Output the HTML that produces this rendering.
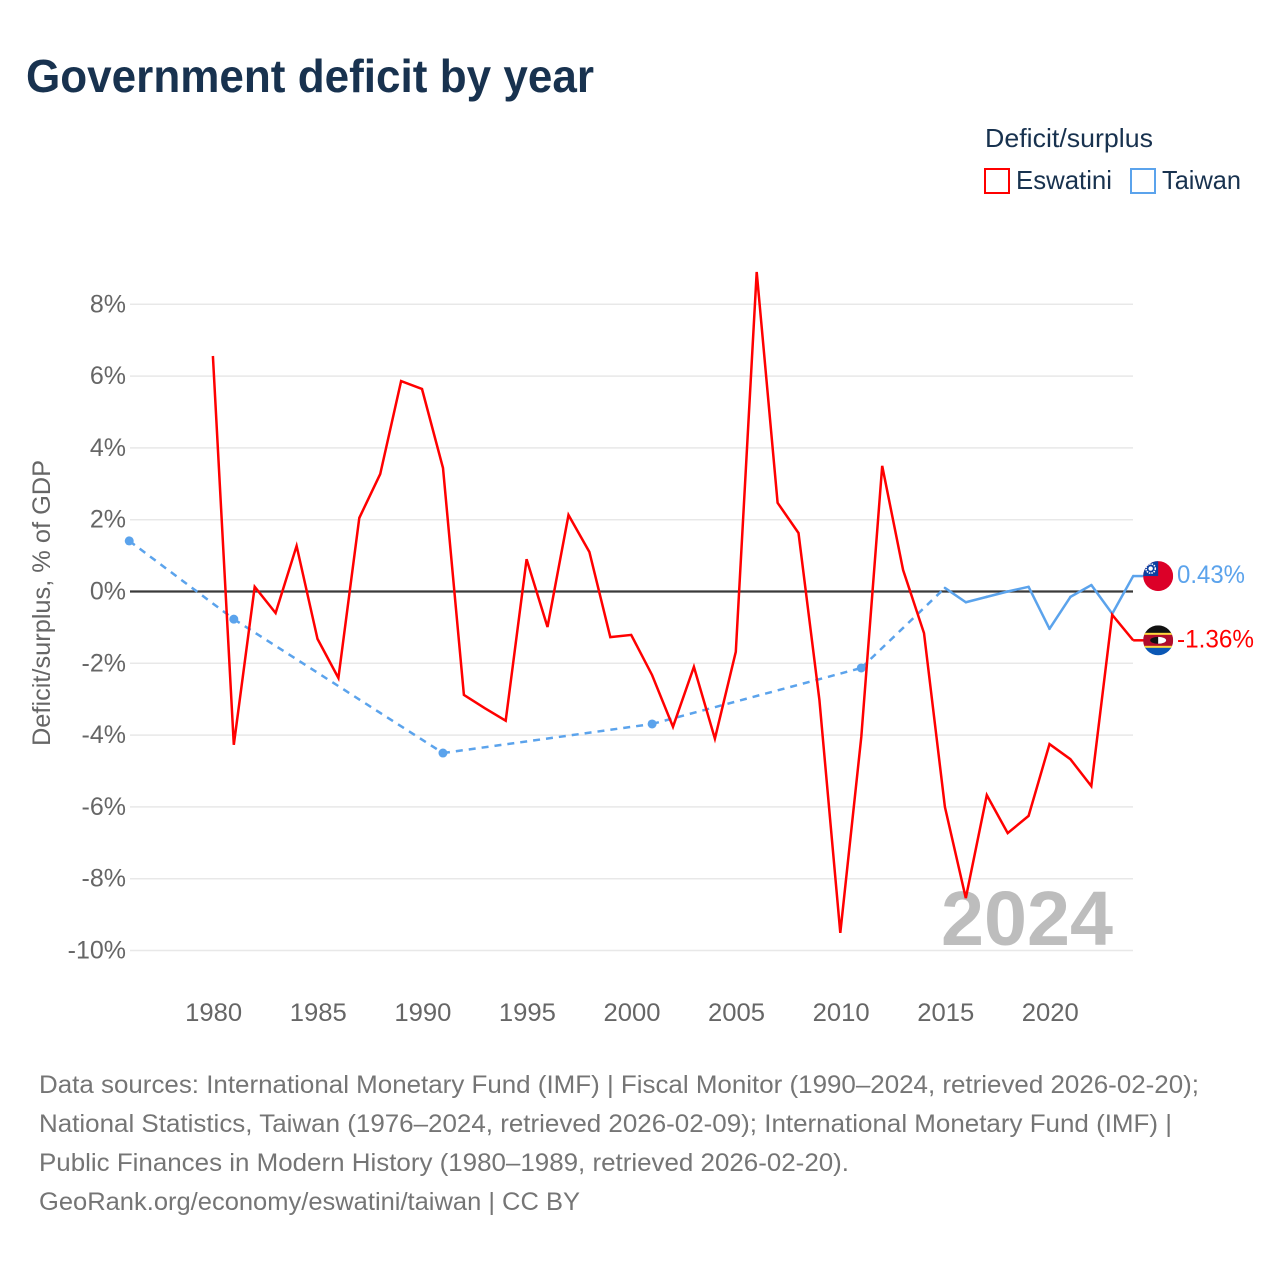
<!DOCTYPE html>
<html lang="en">
<head>
<meta charset="utf-8">
<title>Government deficit by year</title>
<style>
html,body{margin:0;padding:0;background:#fff;width:1280px;height:1280px;overflow:hidden}
svg{display:block;font-family:"Liberation Sans",sans-serif}
</style>
</head>
<body>
<svg id="chart" width="1280" height="1280" viewBox="0 0 1280 1280" xmlns="http://www.w3.org/2000/svg">
  <defs>
    <clipPath id="clip-tw"><circle cx="0" cy="0" r="15"/></clipPath>
    <clipPath id="clip-sz"><circle cx="0" cy="0" r="15"/></clipPath>
  </defs>
  <text x="26" y="92" font-size="46" font-weight="700" fill="#18324f" textLength="568" lengthAdjust="spacingAndGlyphs">Government deficit by year</text>

  <text x="985" y="147" font-size="26" fill="#18324f" textLength="168" lengthAdjust="spacingAndGlyphs">Deficit/surplus</text>
  <rect x="985" y="169" width="24" height="24" fill="#fff" stroke="#ff0000" stroke-width="2"/>
  <text x="1016" y="189" font-size="26" fill="#18324f" textLength="96" lengthAdjust="spacingAndGlyphs">Eswatini</text>
  <rect x="1131" y="169" width="24" height="24" fill="#fff" stroke="#5ba3ec" stroke-width="2"/>
  <text x="1162" y="189" font-size="26" fill="#18324f" textLength="79" lengthAdjust="spacingAndGlyphs">Taiwan</text>

  <g id="grid"></g>
  <g id="yticks"></g>
  <g id="xticks"></g>
  <text transform="translate(50,603) rotate(-90)" text-anchor="middle" font-size="25" fill="#666" textLength="286" lengthAdjust="spacingAndGlyphs">Deficit/surplus, % of GDP</text>

  <text x="1113" y="945" text-anchor="end" font-size="77" font-weight="700" fill="#bdbdbd" textLength="172" lengthAdjust="spacingAndGlyphs">2024</text>

  <g id="series"></g>
  <g id="endlabels"></g>

  <g font-size="25" fill="#757575">
    <text x="39" y="1093" textLength="1160" lengthAdjust="spacingAndGlyphs">Data sources: International Monetary Fund (IMF) | Fiscal Monitor (1990–2024, retrieved 2026-02-20);</text>
    <text x="39" y="1132" textLength="1133" lengthAdjust="spacingAndGlyphs">National Statistics, Taiwan (1976–2024, retrieved 2026-02-09); International Monetary Fund (IMF) |</text>
    <text x="39" y="1171" textLength="810" lengthAdjust="spacingAndGlyphs">Public Finances in Modern History (1980–1989, retrieved 2026-02-20).</text>
    <text x="39" y="1210" textLength="541" lengthAdjust="spacingAndGlyphs">GeoRank.org/economy/eswatini/taiwan | CC BY</text>
  </g>
</svg>
<script>
const eswatiniYears = [1980,1981,1982,1983,1984,1985,1986,1987,1988,1989,1990,1991,1992,1993,1994,1995,1996,1997,1998,1999,2000,2001,2002,2003,2004,2005,2006,2007,2008,2009,2010,2011,2012,2013,2014,2015,2016,2017,2018,2019,2020,2021,2022,2023,2024];
const eswatiniValues = [6.56,-4.27,0.13,-0.6,1.27,-1.32,-2.41,2.05,3.27,5.86,5.64,3.44,-2.88,-3.25,-3.6,0.9,-0.99,2.13,1.1,-1.27,-1.21,-2.33,-3.77,-2.1,-4.1,-1.68,8.9,2.47,1.63,-3.02,-9.51,-4.05,3.5,0.6,-1.16,-6.0,-8.54,-5.67,-6.73,-6.25,-4.25,-4.67,-5.42,-0.65,-1.36];
const taiwanYears = [1976,1981,1991,2001,2011,2015,2016,2017,2018,2019,2020,2021,2022,2023,2024];
const taiwanValues = [1.41,-0.77,-4.5,-3.69,-2.13,0.1,-0.3,-0.15,0.0,0.13,-1.04,-0.15,0.18,-0.62,0.43];
const yTickValues = [8,6,4,2,0,-2,-4,-6,-8,-10];
const xTickYears = [1980,1985,1990,1995,2000,2005,2010,2015,2020];

const NS = 'http://www.w3.org/2000/svg';
const x = yr => 212.9 + (yr - 1980) * 20.915;
const y = v => 591.5 - v * 35.9;
const fmtPct = v => v.toFixed(2) + '%';
function mk(tag, attrs, parent, txt) {
  const el = document.createElementNS(NS, tag);
  for (const k in attrs) el.setAttribute(k, attrs[k]);
  if (txt !== undefined) el.textContent = txt;
  parent.appendChild(el);
  return el;
}
const gGrid = document.getElementById('grid');
const gY = document.getElementById('yticks');
const gX = document.getElementById('xticks');
const gS = document.getElementById('series');
const gE = document.getElementById('endlabels');

yTickValues.forEach(v => {
  if (v !== 0) {
    const l = mk('line', {x1: 130, x2: 1133, y1: y(v), y2: y(v), stroke: '#e8e8e8', 'stroke-width': 1.5}, gGrid);
    
    
  }
  const t = mk('text', {x: 126, y: y(v) + 8, 'text-anchor': 'end', 'font-size': 25, fill: '#666'}, gY, v + '%');
  
  
});
xTickYears.forEach(yr => {
  const t = mk('text', {x: x(yr) + 0.8, y: 1021, 'text-anchor': 'middle', 'font-size': 25, fill: '#666', textLength: 57, lengthAdjust: 'spacingAndGlyphs'}, gX, yr);
  
  
});
const zero = mk('line', {x1: 130, x2: 1133, y1: y(0), y2: y(0), stroke: '#3a3a3a', 'stroke-width': 2.2}, gS);



const pts = (ys, vs) => ys.map((yr, i) => x(yr).toFixed(1) + ',' + y(vs[i]).toFixed(1)).join(' ');

// Taiwan: gaps between sparse years are dashed, consecutive years are solid
for (let i = 0; i < taiwanYears.length - 1; i++) {
  const gap = taiwanYears[i + 1] - taiwanYears[i] > 1;
  const seg = mk('line', {
    x1: x(taiwanYears[i]), y1: y(taiwanValues[i]),
    x2: x(taiwanYears[i + 1]), y2: y(taiwanValues[i + 1]),
    stroke: '#5ba3ec', 'stroke-width': 2.5, 'stroke-linecap': gap ? 'butt' : 'round'
  }, gS);
  if (gap) seg.setAttribute('stroke-dasharray', '7 6');
  
  
  if (gap) {
    const c = mk('circle', {cx: x(taiwanYears[i]), cy: y(taiwanValues[i]), r: 4.5, fill: '#5ba3ec'}, gS);
    
    
  }
}
const esw = mk('polyline', {points: pts(eswatiniYears, eswatiniValues), fill: 'none', stroke: '#ff0000', 'stroke-width': 2.5, 'stroke-linejoin': 'miter'}, gS);



const lastYear = 2024;
const flagX = x(lastYear) + 25;
const twV = taiwanValues[taiwanValues.length - 1];
const szV = eswatiniValues[eswatiniValues.length - 1];

// Short flat connectors from the last data point to each flag
const twStub = mk('line', {x1: x(lastYear), x2: flagX - 12, y1: y(twV), y2: y(twV), stroke: '#5ba3ec', 'stroke-width': 2.5}, gE);


const szStub = mk('line', {x1: x(lastYear), x2: flagX - 12, y1: y(szV), y2: y(szV), stroke: '#ff0000', 'stroke-width': 2.5}, gE);



// Taiwan flag
const tw = mk('g', {transform: `translate(${flagX},${y(twV)})`, 'clip-path': 'url(#clip-tw)'}, gE);


mk('rect', {x: -15, y: -15, width: 30, height: 30, fill: '#dc0028'}, tw);
mk('rect', {x: -15, y: -15, width: 15, height: 15, fill: '#0b3fa0'}, tw);
mk('circle', {cx: -7.5, cy: -7.5, r: 4.6, fill: 'none', stroke: '#fff', 'stroke-width': 1.6, 'stroke-dasharray': '1.5 1'}, tw);
mk('circle', {cx: -7.5, cy: -7.5, r: 2.2, fill: '#fff'}, tw);
const twL = mk('text', {x: 1177, y: y(twV) + 7, 'font-size': 25, fill: '#5ba3ec', textLength: 68, lengthAdjust: 'spacingAndGlyphs'}, gE, fmtPct(twV));



// Eswatini flag
const sz = mk('g', {transform: `translate(${flagX},${y(szV)})`, 'clip-path': 'url(#clip-sz)'}, gE);


mk('rect', {x: -15, y: -15, width: 30, height: 9, fill: '#111'}, sz);
mk('rect', {x: -15, y: -6, width: 30, height: 12, fill: '#b10c2b'}, sz);
mk('rect', {x: -15, y: 6, width: 30, height: 9, fill: '#0a57b5'}, sz);
mk('rect', {x: -15, y: -7.5, width: 30, height: 2, fill: '#ffd83d'}, sz);
mk('rect', {x: -15, y: 5.5, width: 30, height: 2, fill: '#ffd83d'}, sz);
mk('ellipse', {cx: 0, cy: 0, rx: 8, ry: 3.4, fill: '#111'}, sz);
mk('path', {d: 'M0,-3.4 A8,3.4 0 0 1 0,3.4 Z', fill: '#fff'}, sz);
const szL = mk('text', {x: 1177, y: y(szV) + 7, 'font-size': 25, fill: '#ff0000', textLength: 77, lengthAdjust: 'spacingAndGlyphs'}, gE, fmtPct(szV));


</script>
</body>
</html>
